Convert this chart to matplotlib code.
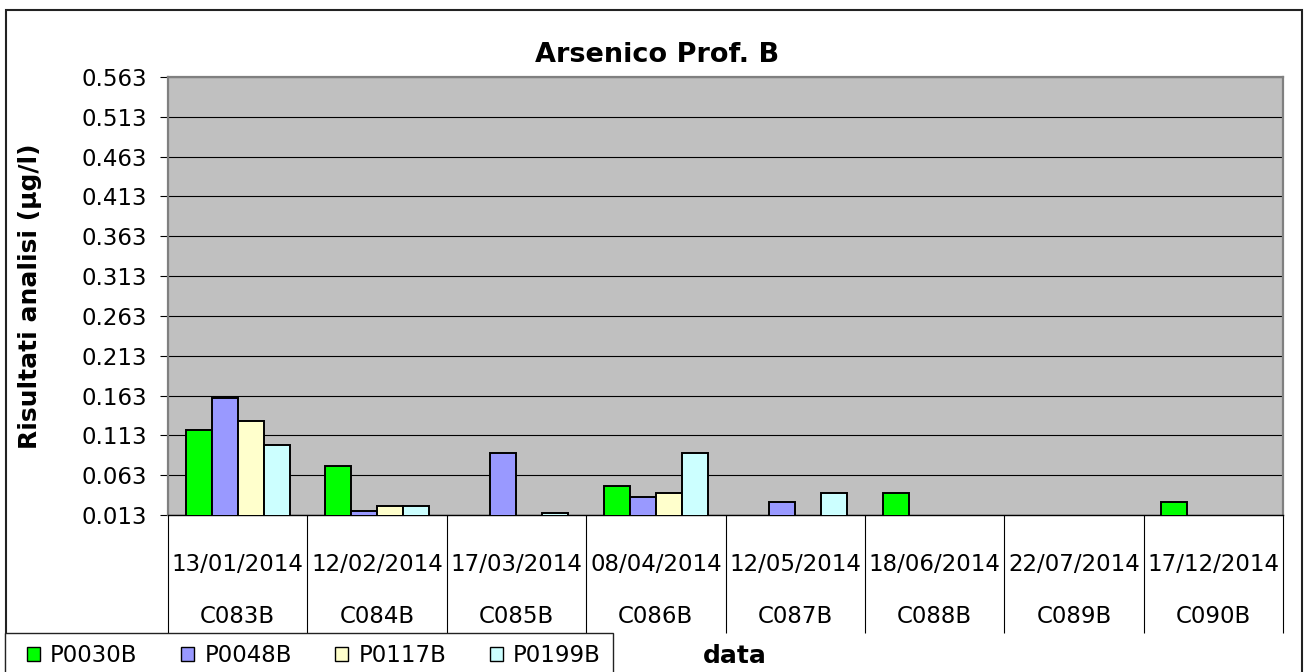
import numpy as np
import matplotlib
matplotlib.use("Agg")
import matplotlib.pyplot as plt
from matplotlib.patches import Rectangle, Patch

# ---------------- data ----------------
dates = ["13/01/2014", "12/02/2014", "17/03/2014", "08/04/2014",
         "12/05/2014", "18/06/2014", "22/07/2014", "17/12/2014"]
codes = ["C083B", "C084B", "C085B", "C086B", "C087B", "C088B", "C089B", "C090B"]
series_names = ["P0030B", "P0048B", "P0117B", "P0199B"]
nan = np.nan
p0030b = [0.120, 0.075, nan, 0.050, nan, 0.040, nan, 0.029]
p0048b = [0.160, 0.018, 0.091, 0.035, 0.029, nan, nan, nan]
p0117b = [0.131, 0.024, nan, 0.040, nan, nan, nan, nan]
p0199b = [0.101, 0.024, 0.015, 0.091, 0.040, nan, nan, nan]
yticks = [0.013, 0.063, 0.113, 0.163, 0.213, 0.263, 0.313, 0.363, 0.413, 0.463, 0.513, 0.563]
title = "Arsenico Prof. B"
ylabel = "Risultati analisi (µg/l)"
xlabel = "data"

colors = ["#00FF00", "#9999FF", "#FFFFCC", "#CCFFFF"]
series = [p0030b, p0048b, p0117b, p0199b]

# ---------------- layout ----------------
W, H = 1305, 672
DPI = 100
plt.rcParams['font.family'] = ['DejaVu Sans']
fig = plt.figure(figsize=(W / DPI, H / DPI), dpi=DPI)

def fx(px):
    return px / W

def fy(py):
    return 1 - py / H

L, R, T, B = 168, 1283, 77, 515
ax = fig.add_axes([fx(L), fy(B), fx(R) - fx(L), fy(T) - fy(B)])
ax.set_facecolor("#C0C0C0")

n = len(dates)
x = np.arange(n)
w = 0.1865
offsets = (np.arange(len(series)) - (len(series) - 1) / 2) * w
for vals, c, off in zip(series, colors, offsets):
    ax.bar(x + off, vals, width=w, color=c, edgecolor="black", linewidth=1.4, zorder=3)

ax.set_xlim(-0.5, n - 0.5)
ax.set_ylim(yticks[0], yticks[-1])
ax.set_yticks(yticks)
ax.set_yticklabels([f"{t:.3f}" for t in yticks], fontsize=16.5)
ax.tick_params(axis="y", direction="out", length=5.8, width=0.8, color="black", pad=9)
ax.set_xticks([])
ax.yaxis.grid(True, color="black", linewidth=0.8)
ax.set_axisbelow(True)
for s in ["top", "right", "left"]:
    ax.spines[s].set_color("#808080")
    ax.spines[s].set_linewidth(1.6)
ax.spines["bottom"].set_color("black")
ax.spines["bottom"].set_linewidth(1.0)

# category table under the axis
tab_bottom = (B - 633) / (B - T)
bounds = np.arange(n + 1) - 0.5
ax.vlines(bounds, tab_bottom, 0, transform=ax.get_xaxis_transform(),
          colors="black", linewidth=0.8, clip_on=False)
yd = (B - 571) / (B - T)
yc = (B - 623) / (B - T)
for i in range(n):
    ax.text(x[i], yd, dates[i], transform=ax.get_xaxis_transform(),
            ha="center", va="baseline", fontsize=16.5)
    ax.text(x[i], yc, codes[i], transform=ax.get_xaxis_transform(),
            ha="center", va="baseline", fontsize=16.5)

# titles
fig.text(fx(657), fy(62), title, ha="center", va="baseline",
         fontsize=19.5, fontweight="bold")
fig.text(fx(30), fy(296), ylabel, ha="center", va="center", rotation=90,
         fontsize=18, fontweight="bold")
fig.text(fx(735), fy(663), xlabel, ha="center", va="baseline",
         fontsize=18, fontweight="bold")

# outer chart frame
fig.patches.append(Rectangle((fx(6), fy(700)), fx(1302) - fx(6), fy(10) - fy(700),
                             transform=fig.transFigure, fill=False,
                             edgecolor="#222222", linewidth=1.5))
# legend box
fig.patches.append(Rectangle((fx(5), fy(700)), fx(613) - fx(5), fy(633) - fy(700),
                             transform=fig.transFigure, facecolor="white",
                             edgecolor="#222222", linewidth=1.0, zorder=2))

handles = [Patch(facecolor=c, edgecolor="black", linewidth=1.0) for c in colors]
fs = 16.5
fig.legend(handles, series_names, loc="center left",
           bbox_to_anchor=(fx(27), fy(656)), ncol=4, frameon=False,
           fontsize=fs, handlelength=0.57, handleheight=0.57,
           handletextpad=0.44, columnspacing=1.9, borderpad=0, borderaxespad=0)

fig.savefig("out.png", dpi=DPI)
